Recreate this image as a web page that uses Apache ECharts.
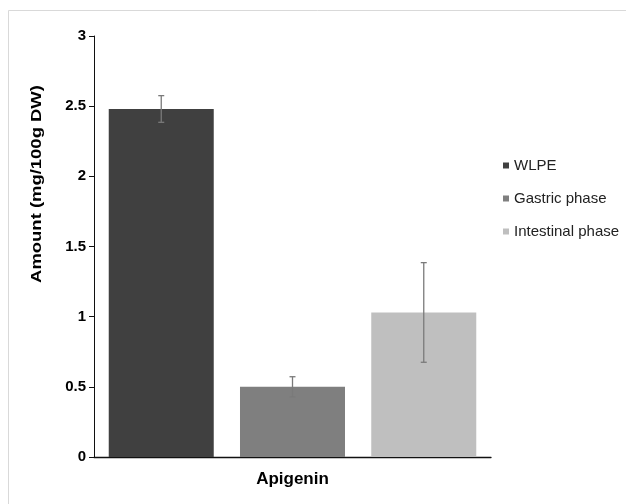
<!DOCTYPE html>
<html><head><meta charset="utf-8">
<script src="https://cdn.jsdelivr.net/npm/echarts@6/dist/echarts.min.js"></script>
<style>html,body{margin:0;padding:0;background:#fff}#c{width:626px;height:504px}</style>
</head><body><div id="c"></div>
<script>
const categories = ['Apigenin'];
const seriesNames = ['WLPE', 'Gastric phase', 'Intestinal phase'];
const means = [2.48, 0.50, 1.03];
const errors = [0.095, 0.072, 0.355];
const colors = ['#404040', '#7f7f7f', '#bfbfbf'];
const yMin = 0, yMax = 3, yInterval = 0.5;
const yTitle = 'Amount (mg/100g DW)';

const BAR_FRAC = 0.2645, BAR_GAP = 0.25;

const chart = echarts.init(document.getElementById('c'), null, {renderer: 'canvas'});

const barSeries = seriesNames.map((n, i) => ({
  name: n, type: 'bar', data: [means[i]],
  barWidth: (BAR_FRAC * 100) + '%', barGap: (BAR_GAP * 100) + '%',
  itemStyle: {color: colors[i]}, emphasis: {disabled: true}
}));

const errSeries = {
  type: 'custom', name: 'err', z: 5, silent: true,
  data: means.map((m, i) => [0, m - errors[i], m + errors[i], i]),
  renderItem: (params, api) => {
    const cat = api.value(0);
    const lo = api.coord([cat, api.value(1)]);
    const hi = api.coord([cat, api.value(2)]);
    const band = api.size([1, 0])[0];
    const bw = band * BAR_FRAC;
    const idx = api.value(3);
    const x = lo[0] + (idx - 1) * bw * (1 + BAR_GAP);
    const cap = 3;
    const style = {stroke: '#7a7a7a', lineWidth: 1.3};
    return {type: 'group', children: [
      {type: 'line', shape: {x1: x, y1: lo[1], x2: x, y2: hi[1]}, style},
      {type: 'line', shape: {x1: x - cap, y1: lo[1], x2: x + cap, y2: lo[1]}, style},
      {type: 'line', shape: {x1: x - cap, y1: hi[1], x2: x + cap, y2: hi[1]}, style}
    ]};
  }
};

chart.setOption({
  animation: false,
  backgroundColor: '#fff',
  grid: {left: 94, right: 135, top: 36, bottom: 47, containLabel: false},
  graphic: [
    {type: 'rect', z: -10, shape: {x: 8.5, y: 10.5, width: 700, height: 600},
     style: {fill: 'none', stroke: '#d9d9d9', lineWidth: 1}},
    {type: 'text', x: 37, y: 184, rotation: Math.PI / 2, scaleX: 1.23, scaleY: 1,
     style: {text: yTitle, font: 'bold 15px "Liberation Sans", Arial, sans-serif',
             fill: '#000', align: 'center', verticalAlign: 'middle'}}
  ],
  legend: {
    data: seriesNames, orient: 'vertical', left: 498, top: 153,
    itemWidth: 6, itemHeight: 6, itemGap: 18, icon: 'rect', selectedMode: false,
    textStyle: {fontFamily: '"Liberation Sans", Arial', fontSize: 15,
                lineHeight: 15, color: '#222'}
  },
  xAxis: {
    type: 'category', data: categories,
    axisTick: {show: false},
    axisLine: {lineStyle: {color: '#111', width: 1.3}},
    axisLabel: {margin: 14, color: '#000', fontWeight: 'bold', fontSize: 17,
                fontFamily: '"Liberation Sans", Arial'}
  },
  yAxis: {
    type: 'value', min: yMin, max: yMax, interval: yInterval,
    splitLine: {show: false},
    axisLine: {show: true, lineStyle: {color: '#111', width: 1}},
    axisTick: {show: true, length: 5, lineStyle: {color: '#111'}},
    axisLabel: {margin: 8, color: '#000', fontWeight: 'bold', fontSize: 15,
                fontFamily: '"Liberation Sans", Arial'}
  },
  series: [...barSeries, errSeries]
});
</script>
</body></html>
